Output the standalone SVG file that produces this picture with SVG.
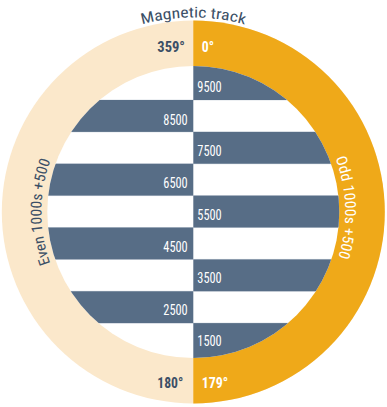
<svg xmlns="http://www.w3.org/2000/svg" width="387" height="407" viewBox="0 0 387 407">
  <defs>
    <clipPath id="inner">
      <circle cx="193.3" cy="212" r="146"/>
    </clipPath>
    <path id="topArc" d="M -1.2 212 A 194.5 194.5 0 0 1 387.8 212"/>
    <path id="leftArc" d="M 117.3 343.6 A 152 152 0 0 1 117.3 80.4"/>
    <path id="rightArc" d="M 269.3 80.4 A 152 152 0 0 1 269.3 343.6"/>
  </defs>
  <style>
    text { font-family: "Roboto Condensed", "Liberation Sans Narrow", "Liberation Sans", Arial, sans-serif; }
    .band { fill: #576d86; }
    .sep { stroke: #d3dae2; stroke-width: 0.8; }
    .lbl { font-size: 14px; fill: #ffffff; }
    .deg { font-size: 14.5px; font-weight: bold; }
    .dark { fill: #3b4f66; }
    .white { fill: #ffffff; }
    .ring { font-size: 15px; }
  </style>

  <g id="ring">
    <circle cx="193.3" cy="212" r="191.5" fill="#fbe8cb"/>
    <path d="M 193.3 20.5 A 191.5 191.5 0 0 1 193.3 403.5 Z" fill="#efa919"/>
    <circle cx="193.3" cy="212" r="146" fill="#ffffff"/>
  </g>

  <g id="bands" clip-path="url(#inner)">
    <line class="sep" x1="40" y1="100" x2="350" y2="100"/>
    <line class="sep" x1="40" y1="131.9" x2="350" y2="131.9"/>
    <line class="sep" x1="40" y1="163.75" x2="350" y2="163.75"/>
    <line class="sep" x1="40" y1="195.6" x2="350" y2="195.6"/>
    <line class="sep" x1="40" y1="227.5" x2="350" y2="227.5"/>
    <line class="sep" x1="40" y1="259.4" x2="350" y2="259.4"/>
    <line class="sep" x1="40" y1="291.25" x2="350" y2="291.25"/>
    <line class="sep" x1="40" y1="323.1" x2="350" y2="323.1"/>
    <rect class="band" x="40" y="100" width="153.3" height="31.9"/>
    <rect class="band" x="40" y="163.75" width="153.3" height="31.85"/>
    <rect class="band" x="40" y="227.5" width="153.3" height="31.9"/>
    <rect class="band" x="40" y="291.25" width="153.3" height="31.85"/>
    <rect class="band" x="193.3" y="60" width="153" height="40"/>
    <rect class="band" x="193.3" y="131.9" width="153" height="31.85"/>
    <rect class="band" x="193.3" y="195.6" width="153" height="31.9"/>
    <rect class="band" x="193.3" y="259.4" width="153" height="31.85"/>
    <rect class="band" x="193.3" y="323.1" width="153" height="40"/>
  </g>

  <g id="labels">
    <text class="lbl" x="197.3" y="91.7" textLength="24.4" lengthAdjust="spacingAndGlyphs">9500</text>
    <text class="lbl" x="187.7" y="124.8" text-anchor="end" textLength="24.4" lengthAdjust="spacingAndGlyphs">8500</text>
    <text class="lbl" x="197.3" y="156" textLength="24.4" lengthAdjust="spacingAndGlyphs">7500</text>
    <text class="lbl" x="187.7" y="188.3" text-anchor="end" textLength="24.4" lengthAdjust="spacingAndGlyphs">6500</text>
    <text class="lbl" x="197.3" y="219.5" textLength="24.4" lengthAdjust="spacingAndGlyphs">5500</text>
    <text class="lbl" x="187.7" y="251.8" text-anchor="end" textLength="24.4" lengthAdjust="spacingAndGlyphs">4500</text>
    <text class="lbl" x="197.3" y="283.2" textLength="24.4" lengthAdjust="spacingAndGlyphs">3500</text>
    <text class="lbl" x="187.7" y="315.3" text-anchor="end" textLength="24.4" lengthAdjust="spacingAndGlyphs">2500</text>
    <text class="lbl" x="197.3" y="345.8" textLength="24.4" lengthAdjust="spacingAndGlyphs">1500</text>
  </g>

  <g id="degrees">
    <text class="deg dark" x="185" y="52" text-anchor="end" textLength="27.7" lengthAdjust="spacingAndGlyphs">359°</text>
    <text class="deg white" x="201.7" y="52" textLength="12.3" lengthAdjust="spacingAndGlyphs">0°</text>
    <text class="deg dark" x="183.3" y="387.8" text-anchor="end" textLength="26" lengthAdjust="spacingAndGlyphs">180°</text>
    <text class="deg white" x="201.7" y="387.8" textLength="26.6" lengthAdjust="spacingAndGlyphs">179°</text>
  </g>

  <g id="title">
    <text class="dark" font-size="15"><textPath href="#topArc" startOffset="50%" text-anchor="middle" textLength="104" lengthAdjust="spacingAndGlyphs">Magnetic track</textPath></text>
  </g>

  <g id="even">
    <text class="ring dark"><textPath href="#leftArc" startOffset="50%" text-anchor="middle" textLength="105" lengthAdjust="spacingAndGlyphs">Even 1000s +500</textPath></text>
  </g>
  <g id="odd">
    <text class="ring white"><textPath href="#rightArc" startOffset="48.6%" text-anchor="middle" textLength="101" lengthAdjust="spacingAndGlyphs">Odd 1000s +500</textPath></text>
  </g>
</svg>
